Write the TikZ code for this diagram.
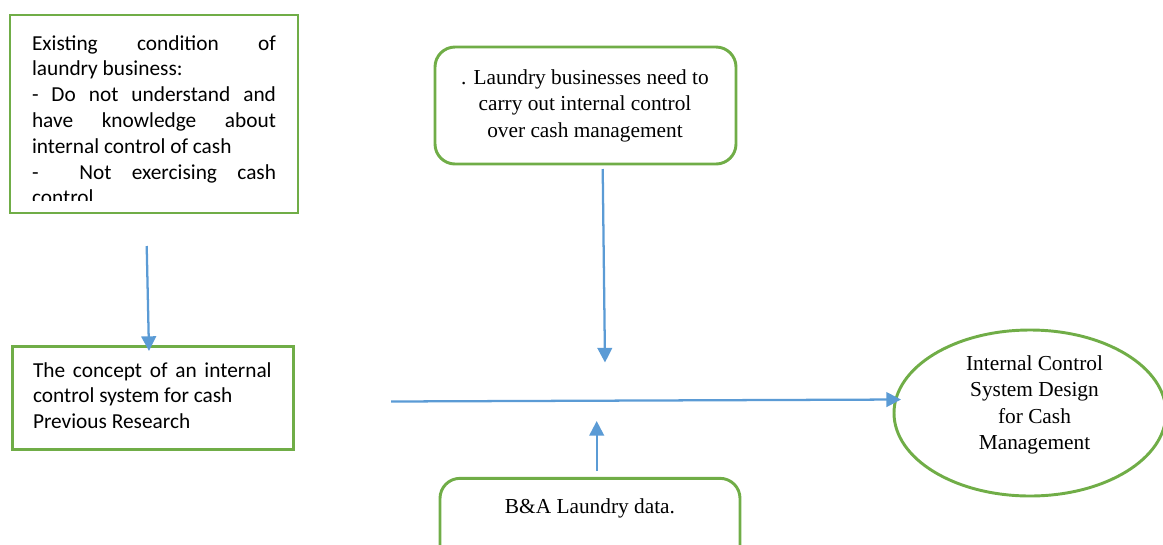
\documentclass[tikz,border=0pt]{standalone}
\usepackage{fontspec}
\setmainfont{Liberation Serif}
\newfontfamily\calfont{Carlito}
\usetikzlibrary{shapes.geometric,arrows.meta}
\definecolor{boxgreen}{HTML}{70AD47}
\definecolor{arrowblue}{HTML}{5B9BD5}
\tikzset{
  sqbox/.style={draw=boxgreen, line width=2.2pt, rectangle, inner sep=0pt},
  rbox/.style={draw=boxgreen, line width=2.2pt, rectangle, rounded corners=15pt, inner sep=0pt},
  ebox/.style={draw=boxgreen, line width=2.2pt, ellipse, inner sep=0pt},
  txt/.style={inner sep=0pt, outer sep=0pt},
  flow/.style={draw=arrowblue, line width=1.7pt, -{Triangle[length=11pt,width=11pt]}}
}
\begin{document}
\begin{tikzpicture}[x=0.75pt,y=-0.75pt]
\useasboundingbox (0,0) rectangle (1163,544);
% boxes
\node[sqbox, minimum width=216pt, minimum height=148.5pt] (exist) at (154,114) {};
\node[sqbox, minimum width=210.75pt, minimum height=77.25pt] (concept) at (153,398.3) {};
\node[rbox, minimum width=225.75pt, minimum height=87.75pt] (need) at (585.5,105.5) {};
\node[rbox, minimum width=225pt, minimum height=70pt] (data) at (590,525) {};
\node[ebox, minimum width=204pt, minimum height=124.5pt] (design) at (1030,413) {};
% texts
\begin{scope}
\clip (10,15) rectangle (298,200);
\node[txt, anchor=base west] (existtext) at (32,50) {\parbox[t]{183pt}{\calfont\fontsize{16}{19.35}\selectfont
\makebox[\linewidth][s]{Existing condition of}\\
laundry business:\\
\makebox[\linewidth][s]{- Do not understand and}\\
\makebox[\linewidth][s]{have knowledge about}\\
internal control of cash\\
\makebox[\linewidth][s]{- \ Not exercising cash}\\
control}};
\end{scope}
\node[txt, anchor=base west] (concepttext) at (33,377) {\parbox[t]{179pt}{\calfont\fontsize{16}{19.3}\selectfont
\makebox[\linewidth][s]{The concept of an internal}\\
control system for cash\\
Previous Research}};
\node[txt, anchor=base] (needtext) at (585,84) {\parbox[t]{230pt}{\centering\fontsize{16}{19.9}\selectfont
. Laundry businesses need to\\
carry out internal control\\
over cash management}};
\node[txt, anchor=base] (datatext) at (590,513) {\fontsize{16}{19.9}\selectfont B\&A Laundry data.};
\node[txt, anchor=base] (designtext) at (1034.5,370.7) {\parbox[t]{150pt}{\centering\fontsize{16}{19.65}\selectfont
Internal Control\\
System Design\\
for Cash\\
Management}};
% connector end points
\coordinate (a1s) at (146.7,246);
\coordinate (a1e) at (149,351);
\coordinate (a2s) at (602.7,169);
\coordinate (a2e) at (605,362.5);
\coordinate (a3s) at (596.7,471);
\coordinate (a3e) at (596.7,421);
\coordinate (a4s) at (391,401.5);
\coordinate (a4e) at (901,399.5);
\draw[flow] (a1s) -- (a1e);
\draw[flow] (a2s) -- (a2e);
\draw[flow] (a3s) -- (a3e);
\draw[flow] (a4s) -- (a4e);
\end{tikzpicture}
\end{document}
